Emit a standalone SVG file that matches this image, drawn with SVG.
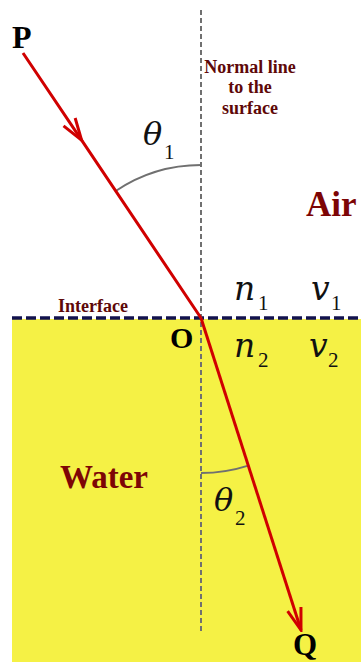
<svg xmlns="http://www.w3.org/2000/svg" width="361" height="662" viewBox="0 0 361 662">
  <style>
    .lbl { font-family: "Liberation Serif", "Times New Roman", serif; font-weight: bold; fill: #000; }
    .med { font-family: "Liberation Serif", "Times New Roman", serif; font-weight: bold; fill: #7d0505; }
    .note { font-family: "Liberation Serif", "Times New Roman", serif; font-weight: bold; fill: #5e0808; }
    .math { font-family: "DejaVu Serif", "Liberation Serif", serif; font-style: italic; fill: #111; }
    .sub { font-family: "Liberation Serif", "Times New Roman", serif; fill: #111; }
    .ray { stroke: #d00000; stroke-width: 3; fill: none; }
    .arc { stroke: #707070; stroke-width: 2; fill: none; }
  </style>
  <defs>
    <marker id="vhead" viewBox="-24 -10 26 20" markerWidth="26" markerHeight="20" refX="0" refY="0" orient="auto" markerUnits="userSpaceOnUse">
      <path d="M-22,-7 L0,0 L-22,7" fill="none" stroke="#d00000" stroke-width="3" stroke-linejoin="miter"/>
    </marker>
    <filter id="blur" x="-5%" y="-200%" width="110%" height="500%">
      <feGaussianBlur stdDeviation="1.3"/>
    </filter>
  </defs>

  <rect width="361" height="662" fill="#ffffff"/>

  <g id="water-region">
    <rect x="12" y="319" width="349" height="343" fill="#f5f145"/>
  </g>

  <g id="interface">
    <line x1="12" y1="324" x2="361" y2="324" stroke="#8c8c5a" stroke-width="3" stroke-dasharray="10 4" opacity="0.7" filter="url(#blur)"/>
    <line x1="12" y1="318" x2="361" y2="318" stroke="#12124e" stroke-width="3.5" stroke-dasharray="10 4"/>
    <text class="note" x="58" y="312" font-size="18">Interface</text>
  </g>

  <g id="normal-line">
    <line x1="201" y1="10" x2="201" y2="633" stroke="#707070" stroke-width="2" stroke-dasharray="5 3"/>
    <text class="note" font-size="18" text-anchor="middle"><tspan x="250" y="73">Normal line</tspan><tspan x="250" y="93">to the</tspan><tspan x="250" y="114">surface</tspan></text>
  </g>

  <g id="angles">
    <path class="arc" d="M201,165 A153,153 0 0 0 115.7,191"/>
    <path class="arc" d="M201,473 A155,155 0 0 0 248.3,465.6"/>
  </g>

  <g id="connectors">
    <polyline id="incident-ray" class="ray" points="23,53 81.6,140.2 201,318" marker-mid="url(#vhead)"/>
    <polyline id="refracted-ray" class="ray" points="201,318 301,630" marker-end="url(#vhead)"/>
  </g>

  <g id="node-P"><text class="lbl" x="12" y="48" font-size="32">P</text></g>
  <g id="node-O"><text class="lbl" x="170" y="348" font-size="30">O</text></g>
  <g id="node-Q"><text class="lbl" x="293" y="655" font-size="31">Q</text></g>

  <g id="label-air"><text class="med" x="306" y="216" font-size="35">Air</text></g>
  <g id="label-water"><text class="med" x="60" y="488" font-size="33">Water</text></g>

  <g id="theta1">
    <text class="math" x="143" y="145" font-size="32">θ</text>
    <text class="sub" x="164" y="159" font-size="21">1</text>
  </g>
  <g id="theta2">
    <text class="math" x="214" y="511" font-size="32">θ</text>
    <text class="sub" x="235" y="525" font-size="21">2</text>
  </g>
  <g id="n1">
    <text class="math" x="234" y="300" font-size="33">n</text>
    <text class="sub" x="258" y="310" font-size="21">1</text>
  </g>
  <g id="v1">
    <text class="math" x="311" y="300" font-size="33">v</text>
    <text class="sub" x="331" y="310" font-size="21">1</text>
  </g>
  <g id="n2">
    <text class="math" x="234" y="357" font-size="33">n</text>
    <text class="sub" x="258" y="367" font-size="21">2</text>
  </g>
  <g id="v2">
    <text class="math" x="309" y="357" font-size="33">v</text>
    <text class="sub" x="328" y="367" font-size="21">2</text>
  </g>
</svg>
